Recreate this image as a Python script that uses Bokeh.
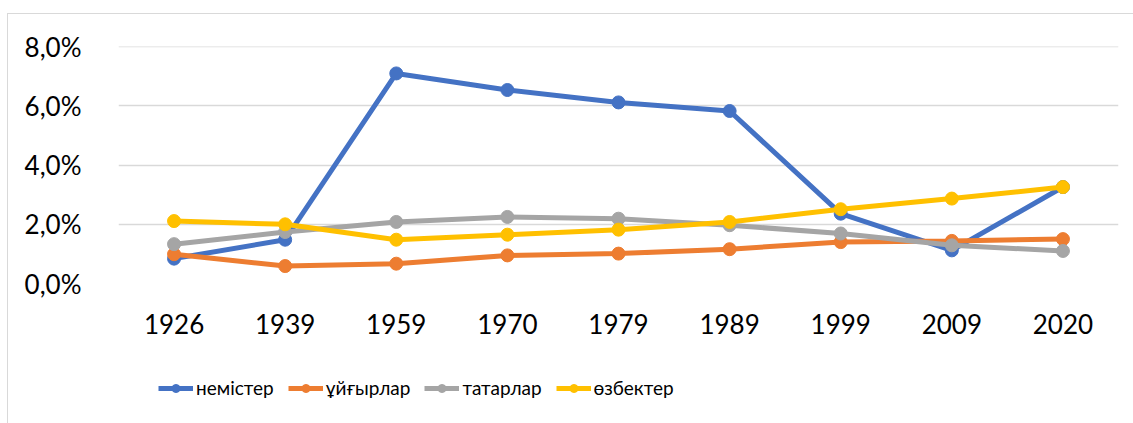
from bokeh.plotting import figure
from bokeh.layouts import column
from bokeh.models import (ColumnDataSource, FactorRange, Range1d, FixedTicker,
                          Legend, LegendItem)
from bokeh.embed import file_html
from bokeh.resources import INLINE

years = ["1926", "1939", "1959", "1970", "1979", "1989", "1999", "2009", "2020"]
nemister = [0.84, 1.48, 7.10, 6.54, 6.12, 5.83, 2.36, 1.12, 3.26]
uigyrlar = [0.99, 0.59, 0.67, 0.95, 1.01, 1.16, 1.40, 1.44, 1.50]
tatarlar = [1.33, 1.74, 2.08, 2.25, 2.19, 1.97, 1.69, 1.29, 1.10]
ozbekter = [2.11, 2.00, 1.48, 1.65, 1.82, 2.08, 2.51, 2.87, 3.26]
series_names = ["немістер", "ұйғырлар", "татарлар", "өзбектер"]
colors = ["#4472C4", "#ED7D31", "#A5A5A5", "#FFC000"]
y_ticks = [0, 2, 4, 6, 8]
y_tick_labels = ["0,0%", "2,0%", "4,0%", "6,0%", "8,0%"]

FONT = "Lato"
W = 1125

xr = FactorRange(*years, range_padding=0)
p = figure(x_range=xr, y_range=Range1d(0, 8.01),
           width=W, height=329, output_backend="svg", toolbar_location=None,
           min_border_left=110, min_border_right=15, min_border_top=32,
           min_border_bottom=60)
p.outline_line_color = None
p.background_fill_color = "white"
p.border_fill_color = "white"

p.xgrid.grid_line_color = None
p.ygrid.grid_line_color = "#d9d9d9"
p.ygrid.grid_line_width = 1.5
p.yaxis.ticker = FixedTicker(ticks=y_ticks)
p.yaxis.major_label_overrides = {t: l for t, l in zip(y_ticks, y_tick_labels)}

for ax in (p.xaxis[0], p.yaxis[0]):
    ax.axis_line_color = None
    ax.major_tick_line_color = None
    ax.minor_tick_line_color = None
    ax.major_label_text_font = FONT
    ax.major_label_text_font_size = "26px"
    ax.major_label_text_color = "black"
p.yaxis.major_label_standoff = 31
p.xaxis.major_label_standoff = 24

# legend strip: same series, drawn outside its visible y window, only the legend shows
lf = figure(x_range=xr, y_range=Range1d(100, 101), width=W, height=80,
            output_backend="svg", toolbar_location=None, min_border=0)
lf.frame_align = False
lf.xaxis.visible = False
lf.yaxis.visible = False
lf.grid.grid_line_color = None
lf.outline_line_color = None
lf.border_fill_color = "white"

items = []
for name, vals, c in zip(series_names, [nemister, uigyrlar, tatarlar, ozbekter], colors):
    src = ColumnDataSource(dict(x=years, y=vals))
    p.line("x", "y", source=src, line_color=c, line_width=5)
    p.scatter("x", "y", source=src, size=13, fill_color=c, line_color=c)
    lr = lf.line("x", "y", source=src, line_color=c, line_width=5)
    sr = lf.scatter("x", "y", source=src, size=12, fill_color=c, line_color=c)
    items.append(LegendItem(label=name, renderers=[lr, sr]))

legend = Legend(items=items, orientation="horizontal", location=(150, 24),
                glyph_width=35, glyph_height=20, label_standoff=3, spacing=14,
                padding=0, margin=0, border_line_color=None,
                background_fill_alpha=0, label_text_font=FONT,
                label_text_font_size="19px", label_text_color="black")
lf.add_layout(legend, "center")

layout = column(p, lf, spacing=0, margin=(13, 0, 0, 7),
                styles={"border-left": "1px solid #d9d9d9",
                        "border-top": "1px solid #d9d9d9"})

open("out.html", "w").write(file_html(layout, INLINE))
